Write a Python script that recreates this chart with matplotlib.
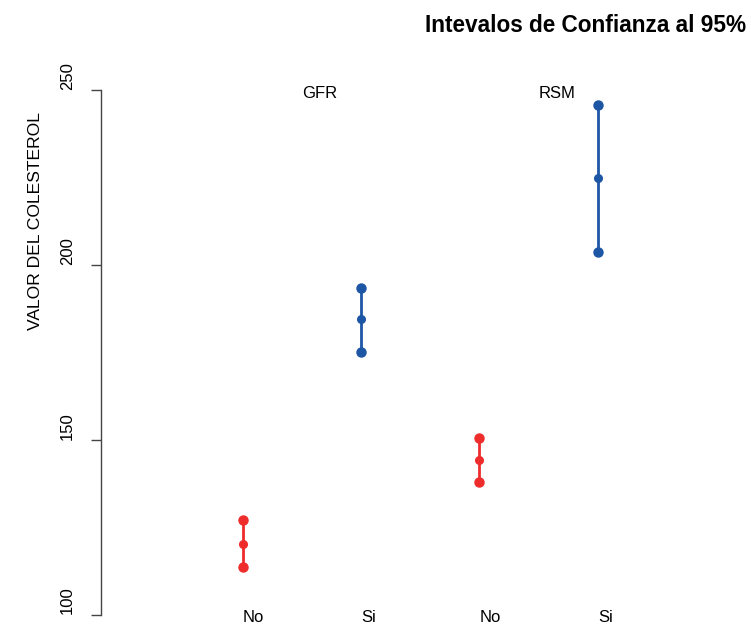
import matplotlib
matplotlib.use("Agg")
import matplotlib.pyplot as plt

plt.rcParams['font.family'] = ['Liberation Sans', 'DejaVu Sans']

positions = [1, 2, 3, 4]
cat_labels = ["No", "Si", "No", "Si"]
group_labels = ["GFR", "RSM"]
group_pos = [1.5, 3.5]
lower = [113.6, 175.1, 137.8, 203.7]
mean = [120.1, 184.4, 144.1, 224.9]
upper = [127.1, 193.4, 150.6, 245.7]
colors = ["#EE2C2C", "#1D56A5", "#EE2C2C", "#1D56A5"]
yticks = [100, 150, 200, 250]

W, H = 751, 625
fig = plt.figure(figsize=(W / 100, H / 100), dpi=100)
left, right, top, bottom = 100.5, 740, 90, 614.5
ax = fig.add_axes([left / W, 1 - bottom / H, (right - left) / W, (bottom - top) / H])
ax.set_xlim(-0.2, 5.2)
ax.set_ylim(100, 250)

for x, lo, m, hi, c in zip(positions, lower, mean, upper, colors):
    ax.plot([x, x], [lo, hi], color=c, lw=2.0, clip_on=False, zorder=2)
    ax.plot([x, x], [lo, hi], 'o', color=c, ms=6.5, clip_on=False, zorder=3)
    ax.plot([x], [m], 'o', color=c, ms=5.5, clip_on=False, zorder=3)

for x, lab in zip(positions, cat_labels):
    ax.text(x, 99.0, lab, ha='left', va='center', fontsize=12, color='black', clip_on=False)
for x, lab in zip(group_pos, group_labels):
    ax.text(x, 249.1, lab, ha='left', va='center', fontsize=12, color='black', clip_on=False)

for s in ['top', 'right', 'bottom']:
    ax.spines[s].set_visible(False)
ax.spines['left'].set_color('#444444')
ax.spines['left'].set_linewidth(1.0)
ax.set_xticks([])
ax.set_yticks(yticks)
ax.set_yticklabels([str(v) for v in yticks], rotation=90, va='bottom', fontsize=12)
ax.tick_params(axis='y', length=7.2, width=1.0, color='#444444', pad=11)

fig.text(35.8 / W, 1 - 221.5 / H, "VALOR DEL COLESTEROL", rotation=90,
         ha='center', va='center', fontsize=12.6)
fig.text(585.5 / W, 1 - 25.7 / H, "Intevalos de Confianza al 95%", ha='center', va='center',
         fontsize=16.3, fontweight='bold')

fig.savefig("out.png", dpi=100)
